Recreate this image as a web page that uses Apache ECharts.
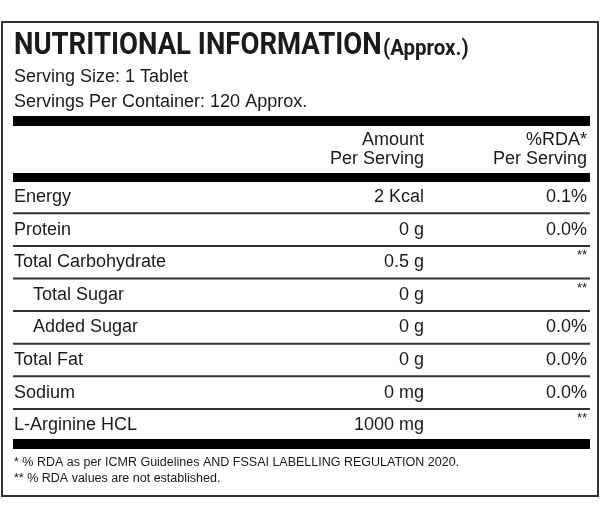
<!DOCTYPE html>
<html><head><meta charset="utf-8">
<script src="https://cdn.jsdelivr.net/npm/echarts@6/dist/echarts.min.js"></script>
<style>html,body{margin:0;padding:0;background:#fff}#c{width:600px;height:522px}</style>
</head><body><div id="c"></div>
<script>
const title = "NUTRITIONAL INFORMATION";
const titleSuffix = "(Approx.)";
const servingLines = ["Serving Size: 1 Tablet", "Servings Per Container: 120 Approx."];
const headerAmount = ["Amount", "Per Serving"];
const headerRDA = ["%RDA*", "Per Serving"];
const nutrients = ["Energy","Protein","Total Carbohydrate","Total Sugar","Added Sugar","Total Fat","Sodium","L-Arginine HCL"];
const indented = [false,false,false,true,true,false,false,false];
const amounts = ["2 Kcal","0 g","0.5 g","0 g","0 g","0 g","0 mg","1000 mg"];
const rda = ["0.1%","0.0%","**","**","0.0%","0.0%","0.0%","**"];
const footnotes = ["* % RDA as per ICMR Guidelines AND FSSAI LABELLING REGULATION 2020.","** % RDA values are not established."];

const FT = "Roboto, sans-serif";
const F = "'Liberation Sans', Arial, sans-serif";
const C = "#1a1a1a";
const els = [];
els.push({type:'rect',shape:{x:2,y:22,width:596,height:474},style:{fill:'#fff',stroke:'#333',lineWidth:2}});
els.push({type:'text',x:14,y:46,scaleX:0.86,style:{text:title,font:"bold 32px "+FT,fill:C,verticalAlign:'middle'}});
els.push({type:'text',x:383,y:49,scaleX:0.93,style:{text:titleSuffix,font:"bold 22px "+FT,fill:C,verticalAlign:'middle'}});
servingLines.forEach((t,i)=>els.push({type:'text',x:14,y:77+i*25,style:{text:t,font:"18px "+F,fill:C,verticalAlign:'middle'}}));
els.push({type:'rect',shape:{x:13,y:116,width:577,height:10},style:{fill:'#000'}});
headerAmount.forEach((t,i)=>els.push({type:'text',x:424,y:140+i*19,style:{text:t,font:"18px "+F,fill:C,align:'right',verticalAlign:'middle'}}));
headerRDA.forEach((t,i)=>els.push({type:'text',x:587,y:140+i*19,style:{text:t,font:"18px "+F,fill:C,align:'right',verticalAlign:'middle'}}));
els.push({type:'rect',shape:{x:13,y:173,width:577,height:9},style:{fill:'#000'}});
const rowH = 32.6, y0 = 197;
nutrients.forEach((n,i)=>{
  const y = y0 + i*rowH;
  els.push({type:'text',x:indented[i]?33:14,y:y,style:{text:n,font:"18px "+F,fill:C,verticalAlign:'middle'}});
  els.push({type:'text',x:424,y:y,style:{text:amounts[i],font:"18px "+F,fill:C,align:'right',verticalAlign:'middle'}});
  els.push({type:'text',x:587,y:y,style:{text:rda[i],font:(rda[i]==='**'?"13px ":"18px ")+F,fill:C,align:'right',verticalAlign:rda[i]==='**'?'bottom':'middle'}});
  if(i<nutrients.length-1){
    const ly = y + rowH/2;
    els.push({type:'line',shape:{x1:13,y1:ly,x2:590,y2:ly},style:{stroke:'#333',lineWidth:2}});
  }
});
els.push({type:'rect',shape:{x:13,y:439,width:577,height:10},style:{fill:'#000'}});
footnotes.forEach((t,i)=>els.push({type:'text',x:14,y:463+i*16,style:{text:t,font:"12.5px "+F,fill:C,verticalAlign:'middle'}}));

const chart = echarts.init(document.getElementById('c'));
chart.setOption({animation:false, graphic:{elements:els}});
</script></body></html>
